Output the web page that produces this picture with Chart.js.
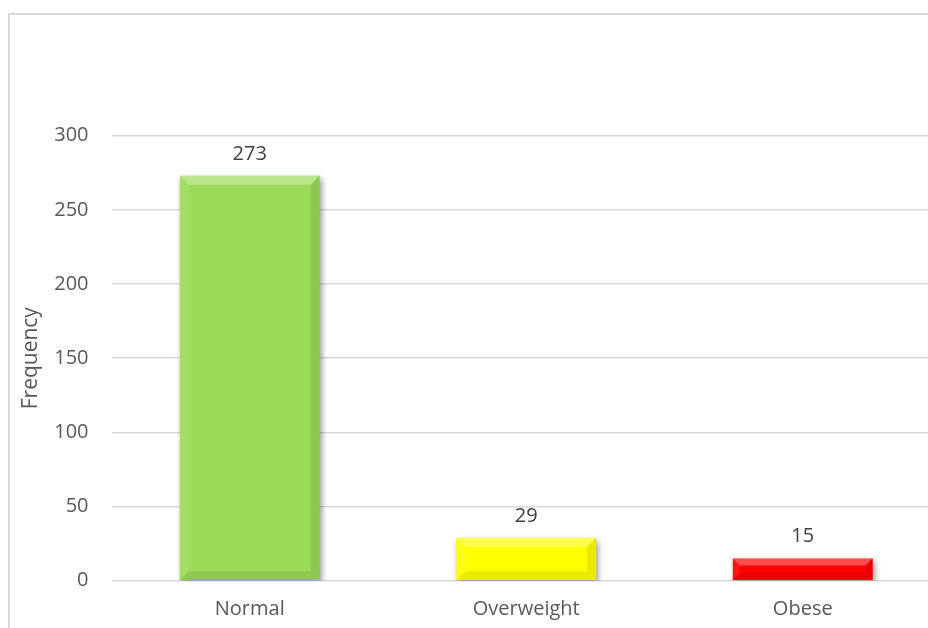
<!DOCTYPE html>
<html>
<head>
<meta charset="utf-8">
<script src="https://cdn.jsdelivr.net/npm/chart.js@4.4.1/dist/chart.umd.min.js"></script>
<style>
  body { margin: 0; overflow: hidden; background: #fff; }
  #frame { position: absolute; left: 8px; top: 13px; width: 1000px; height: 700px; border: 2px solid #d9d9d9; }
  #wrap { position: absolute; left: 0; top: 0; width: 960px; height: 700px; }
</style>
</head>
<body>
<div id="frame"></div>
<div id="wrap"><canvas id="grafico"></canvas></div>
<script>
// dados do grafico
const categorias = ['Normal', 'Overweight', 'Obese']
const frequencia = [273, 29, 15]
const coresBarras = ['#9cdb59', '#ffff00', '#ff0000']
const yMin = 0
const yMax = 300
const yPasso = 50

const corTexto = '#595959'
const fonte = 'Open Sans'

// sombra + chanfro das barras e os rotulos de dados
const chanfro = {
    id: 'chanfro',
    beforeDatasetsDraw(chart) {
        const ctx = chart.ctx
        ctx.save()
        ctx.shadowColor = 'rgba(0,0,0,0.4)'
        ctx.shadowBlur = 6
        ctx.shadowOffsetX = 2
        ctx.shadowOffsetY = 3
    },
    afterDatasetsDraw(chart) {
        const ctx = chart.ctx
        ctx.restore()
        const meta = chart.getDatasetMeta(0)
        meta.data.forEach((bar, i) => {
            const p = bar.getProps(['x', 'y', 'base', 'width'], true)
            const l = p.x - p.width / 2, r = p.x + p.width / 2
            const t = p.y, b = p.base
            const s = Math.min(9, (b - t) / 3)
            const faces = [
                [[l, t], [r, t], [r - s, t + s], [l + s, t + s], 'rgba(255,255,255,0.3)'],
                [[l, b], [r, b], [r - s, b - s], [l + s, b - s], 'rgba(0,0,0,0.08)'],
                [[l, t], [l + s, t + s], [l + s, b - s], [l, b], 'rgba(255,255,255,0.07)'],
                [[r, t], [r - s, t + s], [r - s, b - s], [r, b], 'rgba(0,0,0,0.09)']
            ]
            faces.forEach(f => {
                ctx.beginPath()
                ctx.moveTo(f[0][0], f[0][1])
                for (let k = 1; k < 4; k++) ctx.lineTo(f[k][0], f[k][1])
                ctx.closePath()
                ctx.fillStyle = f[4]
                ctx.fill()
            })
            ctx.fillStyle = '#404040'
            ctx.font = '20px "' + fonte + '"'
            ctx.textAlign = 'center'
            ctx.textBaseline = 'alphabetic'
            ctx.fillText(String(frequencia[i]), p.x, t - 16)
        })
    }
}

const ctx1 = document.getElementById('grafico').getContext('2d')

new Chart(ctx1, {
    type: 'bar',
    data: {
        labels: categorias,
        datasets: [{
            data: frequencia,
            backgroundColor: coresBarras,
            borderWidth: 0,
            barPercentage: 0.506,
            categoryPercentage: 1
        }]
    },
    options: {
        responsive: true,
        maintainAspectRatio: false,
        animation: false,
        layout: { padding: { left: 0, right: 19, top: 135.7, bottom: 69.3 } },
        plugins: { legend: { display: false }, tooltip: { enabled: false } },
        scales: {
            x: {
                grid: { display: false, drawTicks: false },
                border: { display: false },
                ticks: { color: corTexto, font: { family: fonte, size: 20 }, padding: 17 },
                afterFit(scale) { scale.height = 50 }
            },
            y: {
                min: yMin,
                max: yMax,
                ticks: { stepSize: yPasso, color: corTexto, font: { family: fonte, size: 20 }, padding: 23 },
                grid: { color: '#d9d9d9', lineWidth: 1.6, drawTicks: false },
                border: { display: false },
                title: {
                    display: true,
                    text: 'Frequency',
                    color: corTexto,
                    font: { family: fonte, size: 21 },
                    padding: { top: 18, bottom: 0 }
                },
                afterFit(scale) { scale.width = 111.5 }
            }
        }
    },
    plugins: [chanfro]
})
</script>
</body>
</html>
